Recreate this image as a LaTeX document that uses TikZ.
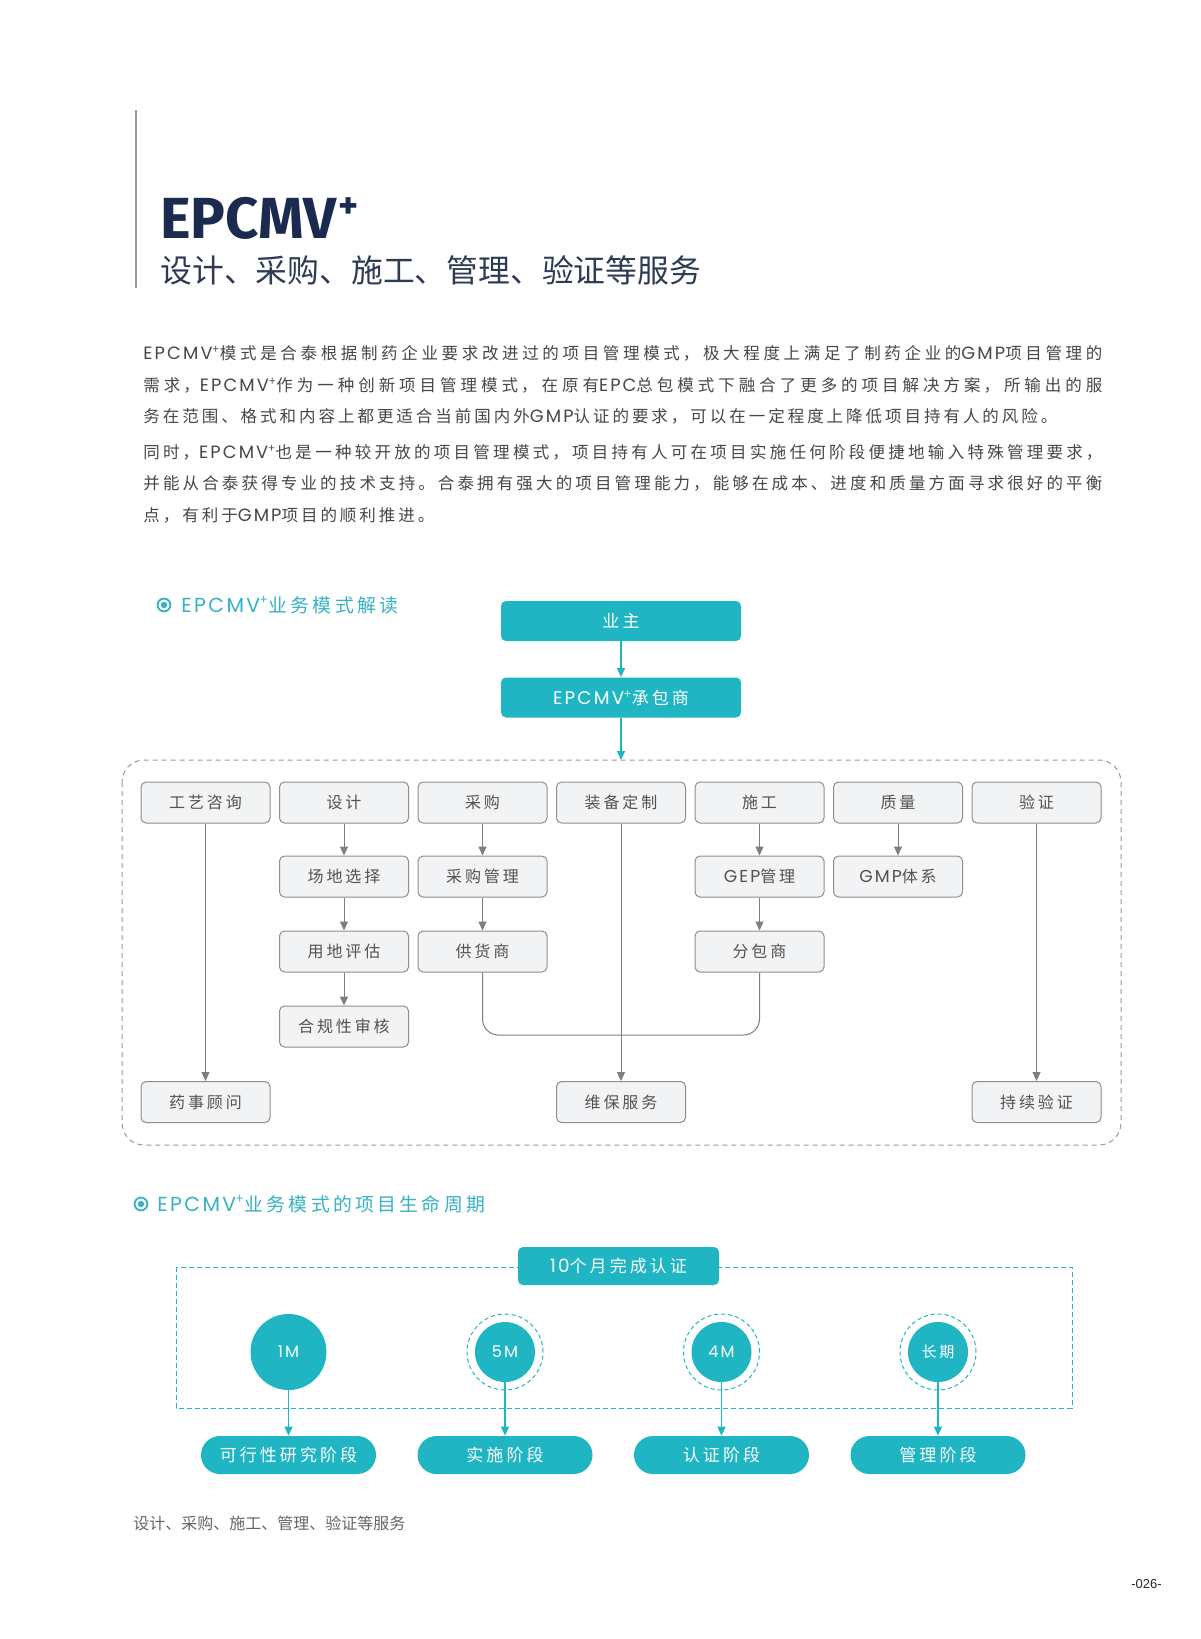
\documentclass[tikz,border=0pt]{standalone}
\usepackage{fontspec}
\setmainfont{Noto Sans CJK SC}[LetterSpace=18]
\newfontfamily\plainfont{Noto Sans CJK SC}
\newfontfamily\latin{Poppins}[LetterSpace=12,Scale=1.08]
\newfontfamily\titlefont{Fira Sans}
\newfontfamily\numfont{Liberation Sans}
\XeTeXlinebreaklocale "zh"
\XeTeXlinebreakskip=0pt plus 3pt
\usetikzlibrary{arrows.meta}

\definecolor{tealmain}{HTML}{1FB5C3}
\definecolor{tealtext}{HTML}{36B2C2}
\definecolor{navy}{HTML}{1B2B4F}
\definecolor{subnavy}{HTML}{2F3B55}
\definecolor{boxfill}{HTML}{F2F3F5}
\definecolor{boxline}{HTML}{8E8E8E}
\definecolor{linegrey}{HTML}{7E7E7E}
\definecolor{bodygrey}{HTML}{474747}

\newcommand\epc{{\latin EPCMV}\textsuperscript{+}}
\newcommand\fullline[1]{\parbox{479.5pt}{\parfillskip=0pt\relax #1}}

\begin{document}
\begin{tikzpicture}[x=0.5pt,y=-0.5pt,
  gbox/.style={draw=boxline,fill=boxfill,line width=0.5pt,rounded corners=2.5pt,
    minimum width=64.5pt,minimum height=20.5pt,inner sep=0pt,text=black!68,
    font=\fontsize{8}{8}\selectfont},
  tbox/.style={fill=tealmain,rounded corners=2.5pt,minimum width=120pt,
    minimum height=20pt,inner sep=0pt,text=white,font=\fontsize{8.5}{8.5}\selectfont},
  pill/.style={fill=tealmain,rounded corners=9.5pt,minimum width=87.5pt,
    minimum height=19pt,inner sep=0pt,text=white,font=\fontsize{8.5}{8.5}\selectfont},
  stagedot/.style={circle,fill=tealmain,minimum size=30pt,inner sep=0pt,text=white,
    font=\fontsize{7.5}{7.5}\selectfont},
  ring/.style={draw=tealmain,line width=0.5pt,dash pattern=on 2pt off 1.5pt},
  garrow/.style={draw=linegrey,line width=0.5pt,-{Triangle[length=4.5pt,width=4pt]}},
  tarrow/.style={draw=tealmain,line width=0.6pt,-{Triangle[length=4.5pt,width=4pt]}},
  bodyline/.style={anchor=west,inner sep=0pt,text=bodygrey,font=\fontsize{8.25}{8.25}\selectfont},
  sectionhead/.style={anchor=west,inner sep=0pt,text=tealtext,font=\fontsize{9.4}{9.4}\selectfont}]
  \useasboundingbox (0,0) rectangle (1200,1639);
  \fill[white] (0,0) rectangle (1200,1639);

  % title block
  \draw[line width=1pt,draw=black!40] (136,110) -- (136,288);
  \node[anchor=base west,inner sep=0pt,text=navy,
    font=\titlefont\bfseries\fontsize{29}{29}\selectfont] (title) at (160,238)
    {EPCMV\kern1pt\raisebox{10pt}{\fontsize{19}{19}\selectfont +}};
  \node[anchor=west,inner sep=0pt,text=subnavy,
    font=\plainfont\fontsize{15.9}{15.9}\selectfont] (subtitle) at (160,270)
    {设计、采购、施工、管理、验证等服务};

  % body text
  \node[bodyline] (line1) at (143,353) {\fullline{\epc 模式是合泰根据制药企业要求改进过的项目管理模式，极大程度上满足了制药企业的{\latin GMP}项目管理的}};
  \node[bodyline] (line2) at (143,385) {\fullline{需求，\epc 作为一种创新项目管理模式，在原有{\latin EPC}总包模式下融合了更多的项目解决方案，所输出的服}};
  \node[bodyline] (line3) at (143,416) {务在范围、格式和内容上都更适合当前国内外{\latin GMP}认证的要求，可以在一定程度上降低项目持有人的风险。};
  \node[bodyline] (line4) at (143,452) {\fullline{同时，\epc 也是一种较开放的项目管理模式，项目持有人可在项目实施任何阶段便捷地输入特殊管理要求，}};
  \node[bodyline] (line5) at (143,483) {\fullline{并能从合泰获得专业的技术支持。合泰拥有强大的项目管理能力，能够在成本、进度和质量方面寻求很好的平衡}};
  \node[bodyline] (line6) at (143,515) {点，有利于{\latin GMP}项目的顺利推进。};

  % business model
  \draw[tealtext,line width=0.9pt] (164,605) circle (3.2pt);
  \fill[tealtext] (164,605) circle (1.6pt);
  \node[sectionhead] (head1) at (181,605) {\epc 业务模式解读};

  \node[tbox] (owner) at (621,621) {业主};
  \node[tbox] (contractor) at (621,697.5) {\epc 承包商};
  \coordinate (frametop) at (621,760);
  \draw[tarrow] (owner) -- (contractor);
  \draw[tarrow] (contractor) -- (frametop);
  \draw[draw=black!40,line width=0.5pt,rounded corners=11pt,dash pattern=on 2.5pt off 2pt]
    (122,760) rectangle (1121,1145);

  \node[gbox] (craft) at (205.5,802.5) {工艺咨询};
  \node[gbox] (design) at (344,802.5) {设计};
  \node[gbox] (purchase) at (482.5,802.5) {采购};
  \node[gbox] (equip) at (621,802.5) {装备定制};
  \node[gbox] (build) at (759.5,802.5) {施工};
  \node[gbox] (quality) at (898,802.5) {质量};
  \node[gbox] (verify) at (1036.5,802.5) {验证};

  \node[gbox] (site) at (344,876.5) {场地选择};
  \node[gbox] (procure) at (482.5,876.5) {采购管理};
  \node[gbox] (gep) at (759.5,876.5) {{\latin GEP}管理};
  \node[gbox] (gmp) at (898,876.5) {{\latin GMP}体系};

  \node[gbox] (landeval) at (344,951.5) {用地评估};
  \node[gbox] (supplier) at (482.5,951.5) {供货商};
  \node[gbox] (subcon) at (759.5,951.5) {分包商};

  \node[gbox] (compliance) at (344,1026.5) {合规性审核};

  \node[gbox] (regaffairs) at (205.5,1102) {药事顾问};
  \node[gbox] (maint) at (621,1102) {维保服务};
  \node[gbox] (contverify) at (1036.5,1102) {持续验证};

  \draw[garrow] (craft) -- (regaffairs);
  \draw[garrow] (design) -- (site);
  \draw[garrow] (site) -- (landeval);
  \draw[garrow] (landeval) -- (compliance);
  \draw[garrow] (purchase) -- (procure);
  \draw[garrow] (procure) -- (supplier);
  \draw[garrow] (equip) -- (maint);
  \draw[garrow] (build) -- (gep);
  \draw[garrow] (gep) -- (subcon);
  \draw[garrow] (quality) -- (gmp);
  \draw[garrow] (verify) -- (contverify);
  \coordinate (joinrow) at (0,1035);
  \draw[draw=linegrey,line width=0.5pt,rounded corners=8pt]
    (supplier.south) |- (subcon.south |- joinrow) -- (subcon.south);

  % life cycle
  \draw[tealtext,line width=0.9pt] (141,1204) circle (3.2pt);
  \fill[tealtext] (141,1204) circle (1.6pt);
  \node[sectionhead] (head2) at (157,1204) {\epc 业务模式的项目生命周期};

  \draw[draw=tealmain,line width=0.5pt,dash pattern=on 2.5pt off 1.5pt] (176,1267) rectangle (1072,1408);
  \node[tbox,minimum width=100.5pt,minimum height=19pt] (tenmonth) at (618.5,1266) {{\latin 10}个月完成认证};

  \node[stagedot,minimum size=38pt] (m1) at (288.5,1352) {{\latin 1M}};
  \draw[ring] (505,1352) circle (19pt);
  \node[stagedot] (m5) at (505,1352) {{\latin 5M}};
  \draw[ring] (721.5,1352) circle (19pt);
  \node[stagedot] (m4) at (721.5,1352) {{\latin 4M}};
  \draw[ring] (938,1352) circle (19pt);
  \node[stagedot] (mlong) at (938,1352) {长期};

  \node[pill] (feasible) at (288.5,1455) {可行性研究阶段};
  \node[pill] (implement) at (505,1455) {实施阶段};
  \node[pill] (certify) at (721.5,1455) {认证阶段};
  \node[pill] (manage) at (938,1455) {管理阶段};

  \draw[tarrow] (m1) -- (feasible);
  \draw[tarrow] (m5) -- (implement);
  \draw[tarrow] (m4) -- (certify);
  \draw[tarrow] (mlong) -- (manage);

  % footer
  \node[anchor=west,inner sep=0pt,text=black!60,font=\plainfont\fontsize{8}{8}\selectfont] (footer) at (133,1523)
    {设计、采购、施工、管理、验证等服务};
  \node[anchor=east,inner sep=0pt,text=black!85,font=\numfont\fontsize{6.5}{6.5}\selectfont] (pageno) at (1162,1584) {-026-};
\end{tikzpicture}
\end{document}
